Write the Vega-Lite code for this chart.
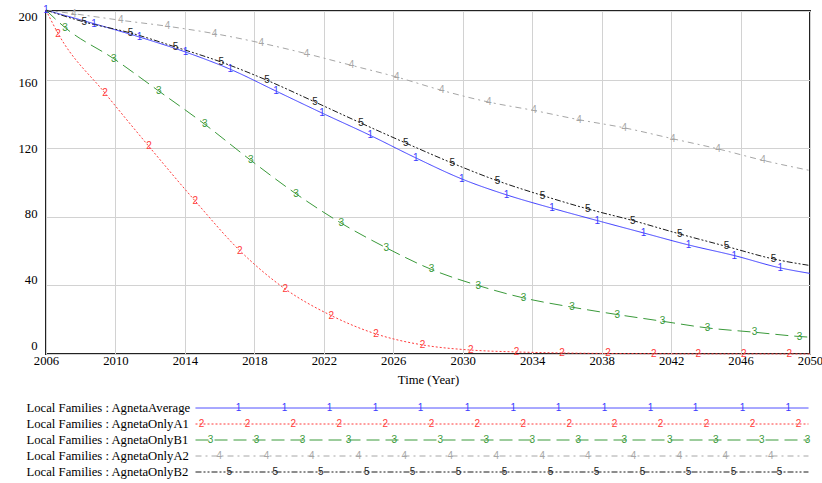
{
  "$schema": "https://vega.github.io/schema/vega-lite/v6.json",
  "padding": {"left": 16, "top": 4, "right": 0, "bottom": 0},
  "background": "white",
  "spacing": 12,
  "config": {"font": "Liberation Serif", "view": {"stroke": null}},
  "datasets": {
    "curves": [
      {"series": "AgnetaAverage", "year": 2006, "value": 200.5},
      {"series": "AgnetaAverage", "year": 2008.77, "value": 192.6},
      {"series": "AgnetaAverage", "year": 2011.39, "value": 184.8},
      {"series": "AgnetaAverage", "year": 2014.03, "value": 176.1},
      {"series": "AgnetaAverage", "year": 2016.62, "value": 166.0},
      {"series": "AgnetaAverage", "year": 2019.25, "value": 153.3},
      {"series": "AgnetaAverage", "year": 2021.9, "value": 140.5},
      {"series": "AgnetaAverage", "year": 2024.67, "value": 127.5},
      {"series": "AgnetaAverage", "year": 2027.29, "value": 114.4},
      {"series": "AgnetaAverage", "year": 2029.94, "value": 102.1},
      {"series": "AgnetaAverage", "year": 2032.52, "value": 92.8},
      {"series": "AgnetaAverage", "year": 2035.15, "value": 85.0},
      {"series": "AgnetaAverage", "year": 2037.75, "value": 77.8},
      {"series": "AgnetaAverage", "year": 2040.41, "value": 70.6},
      {"series": "AgnetaAverage", "year": 2043.0, "value": 63.6},
      {"series": "AgnetaAverage", "year": 2045.64, "value": 57.4},
      {"series": "AgnetaAverage", "year": 2048.29, "value": 50.2},
      {"series": "AgnetaAverage", "year": 2050, "value": 47.0},
      {"series": "AgnetaOnlyA1", "year": 2006, "value": 200.5},
      {"series": "AgnetaOnlyA1", "year": 2006.7, "value": 186.8},
      {"series": "AgnetaOnlyA1", "year": 2009.4, "value": 152.1},
      {"series": "AgnetaOnlyA1", "year": 2011.93, "value": 121.0},
      {"series": "AgnetaOnlyA1", "year": 2014.6, "value": 89.1},
      {"series": "AgnetaOnlyA1", "year": 2017.16, "value": 60.3},
      {"series": "AgnetaOnlyA1", "year": 2019.78, "value": 37.9},
      {"series": "AgnetaOnlyA1", "year": 2022.43, "value": 22.4},
      {"series": "AgnetaOnlyA1", "year": 2025.0, "value": 11.7},
      {"series": "AgnetaOnlyA1", "year": 2027.68, "value": 5.3},
      {"series": "AgnetaOnlyA1", "year": 2030.47, "value": 2.3},
      {"series": "AgnetaOnlyA1", "year": 2033.1, "value": 1.2},
      {"series": "AgnetaOnlyA1", "year": 2035.72, "value": 0.6},
      {"series": "AgnetaOnlyA1", "year": 2038.37, "value": 0.3},
      {"series": "AgnetaOnlyA1", "year": 2041.0, "value": 0.2},
      {"series": "AgnetaOnlyA1", "year": 2043.57, "value": 0.1},
      {"series": "AgnetaOnlyA1", "year": 2046.18, "value": 0.1},
      {"series": "AgnetaOnlyA1", "year": 2048.8, "value": 0.05},
      {"series": "AgnetaOnlyA1", "year": 2050, "value": 0.05},
      {"series": "AgnetaOnlyB1", "year": 2006, "value": 200.5},
      {"series": "AgnetaOnlyB1", "year": 2007.1, "value": 190.3},
      {"series": "AgnetaOnlyB1", "year": 2009.9, "value": 172.2},
      {"series": "AgnetaOnlyB1", "year": 2012.5, "value": 153.3},
      {"series": "AgnetaOnlyB1", "year": 2015.15, "value": 133.9},
      {"series": "AgnetaOnlyB1", "year": 2017.8, "value": 112.9},
      {"series": "AgnetaOnlyB1", "year": 2020.4, "value": 93.4},
      {"series": "AgnetaOnlyB1", "year": 2023.0, "value": 76.3},
      {"series": "AgnetaOnlyB1", "year": 2025.6, "value": 61.9},
      {"series": "AgnetaOnlyB1", "year": 2028.2, "value": 49.3},
      {"series": "AgnetaOnlyB1", "year": 2030.9, "value": 39.9},
      {"series": "AgnetaOnlyB1", "year": 2033.5, "value": 32.7},
      {"series": "AgnetaOnlyB1", "year": 2036.3, "value": 27.3},
      {"series": "AgnetaOnlyB1", "year": 2038.9, "value": 23.0},
      {"series": "AgnetaOnlyB1", "year": 2041.5, "value": 19.1},
      {"series": "AgnetaOnlyB1", "year": 2044.1, "value": 15.2},
      {"series": "AgnetaOnlyB1", "year": 2046.8, "value": 12.7},
      {"series": "AgnetaOnlyB1", "year": 2049.4, "value": 10.2},
      {"series": "AgnetaOnlyB1", "year": 2050, "value": 9.8},
      {"series": "AgnetaOnlyA2", "year": 2006, "value": 200.5},
      {"series": "AgnetaOnlyA2", "year": 2007.6, "value": 198.4},
      {"series": "AgnetaOnlyA2", "year": 2010.3, "value": 194.6},
      {"series": "AgnetaOnlyA2", "year": 2013.0, "value": 191.1},
      {"series": "AgnetaOnlyA2", "year": 2015.7, "value": 186.8},
      {"series": "AgnetaOnlyA2", "year": 2018.4, "value": 181.3},
      {"series": "AgnetaOnlyA2", "year": 2021.0, "value": 175.1},
      {"series": "AgnetaOnlyA2", "year": 2023.6, "value": 168.3},
      {"series": "AgnetaOnlyA2", "year": 2026.2, "value": 161.5},
      {"series": "AgnetaOnlyA2", "year": 2028.8, "value": 153.7},
      {"series": "AgnetaOnlyA2", "year": 2031.5, "value": 146.9},
      {"series": "AgnetaOnlyA2", "year": 2034.1, "value": 142.0},
      {"series": "AgnetaOnlyA2", "year": 2036.7, "value": 136.6},
      {"series": "AgnetaOnlyA2", "year": 2039.3, "value": 131.9},
      {"series": "AgnetaOnlyA2", "year": 2042.1, "value": 125.5},
      {"series": "AgnetaOnlyA2", "year": 2044.7, "value": 119.6},
      {"series": "AgnetaOnlyA2", "year": 2047.3, "value": 112.9},
      {"series": "AgnetaOnlyA2", "year": 2050, "value": 107.0},
      {"series": "AgnetaOnlyB2", "year": 2006, "value": 200.5},
      {"series": "AgnetaOnlyB2", "year": 2008.2, "value": 193.6},
      {"series": "AgnetaOnlyB2", "year": 2010.87, "value": 187.2},
      {"series": "AgnetaOnlyB2", "year": 2013.46, "value": 179.0},
      {"series": "AgnetaOnlyB2", "year": 2016.1, "value": 170.2},
      {"series": "AgnetaOnlyB2", "year": 2018.73, "value": 159.6},
      {"series": "AgnetaOnlyB2", "year": 2021.5, "value": 146.9},
      {"series": "AgnetaOnlyB2", "year": 2024.15, "value": 134.6},
      {"series": "AgnetaOnlyB2", "year": 2026.72, "value": 123.0},
      {"series": "AgnetaOnlyB2", "year": 2029.4, "value": 111.3},
      {"series": "AgnetaOnlyB2", "year": 2032.0, "value": 101.0},
      {"series": "AgnetaOnlyB2", "year": 2034.6, "value": 92.4},
      {"series": "AgnetaOnlyB2", "year": 2037.2, "value": 84.6},
      {"series": "AgnetaOnlyB2", "year": 2039.8, "value": 77.8},
      {"series": "AgnetaOnlyB2", "year": 2042.5, "value": 70.0},
      {"series": "AgnetaOnlyB2", "year": 2045.2, "value": 62.7},
      {"series": "AgnetaOnlyB2", "year": 2047.9, "value": 55.4},
      {"series": "AgnetaOnlyB2", "year": 2050, "value": 51.6}
    ],
    "legendRows": [
      {"series": "AgnetaAverage", "label": "Local Families : AgnetaAverage"},
      {"series": "AgnetaOnlyA1", "label": "Local Families : AgnetaOnlyA1"},
      {"series": "AgnetaOnlyB1", "label": "Local Families : AgnetaOnlyB1"},
      {"series": "AgnetaOnlyA2", "label": "Local Families : AgnetaOnlyA2"},
      {"series": "AgnetaOnlyB2", "label": "Local Families : AgnetaOnlyB2"}
    ],
    "legendMarks": [
      {"series": "AgnetaAverage", "pos": 25.20}, {"series": "AgnetaAverage", "pos": 31.22}, {"series": "AgnetaAverage", "pos": 37.11}, {"series": "AgnetaAverage", "pos": 43.13}, {"series": "AgnetaAverage", "pos": 49.02}, {"series": "AgnetaAverage", "pos": 55.17}, {"series": "AgnetaAverage", "pos": 61.15}, {"series": "AgnetaAverage", "pos": 67.08}, {"series": "AgnetaAverage", "pos": 73.10}, {"series": "AgnetaAverage", "pos": 79.12}, {"series": "AgnetaAverage", "pos": 85.01}, {"series": "AgnetaAverage", "pos": 91.16}, {"series": "AgnetaAverage", "pos": 97.15},
      {"series": "AgnetaOnlyA1", "pos": 20.35}, {"series": "AgnetaOnlyA1", "pos": 26.37}, {"series": "AgnetaOnlyA1", "pos": 32.36}, {"series": "AgnetaOnlyA1", "pos": 38.38}, {"series": "AgnetaOnlyA1", "pos": 44.40}, {"series": "AgnetaOnlyA1", "pos": 50.46}, {"series": "AgnetaOnlyA1", "pos": 56.44}, {"series": "AgnetaOnlyA1", "pos": 62.46}, {"series": "AgnetaOnlyA1", "pos": 68.48}, {"series": "AgnetaOnlyA1", "pos": 74.41}, {"series": "AgnetaOnlyA1", "pos": 80.43}, {"series": "AgnetaOnlyA1", "pos": 86.45}, {"series": "AgnetaOnlyA1", "pos": 92.47}, {"series": "AgnetaOnlyA1", "pos": 98.50},
      {"series": "AgnetaOnlyB1", "pos": 21.53}, {"series": "AgnetaOnlyB1", "pos": 27.55}, {"series": "AgnetaOnlyB1", "pos": 33.57}, {"series": "AgnetaOnlyB1", "pos": 39.59}, {"series": "AgnetaOnlyB1", "pos": 45.58}, {"series": "AgnetaOnlyB1", "pos": 51.60}, {"series": "AgnetaOnlyB1", "pos": 57.62}, {"series": "AgnetaOnlyB1", "pos": 63.64}, {"series": "AgnetaOnlyB1", "pos": 69.66}, {"series": "AgnetaOnlyB1", "pos": 75.68}, {"series": "AgnetaOnlyB1", "pos": 81.65}, {"series": "AgnetaOnlyB1", "pos": 87.67}, {"series": "AgnetaOnlyB1", "pos": 93.69}, {"series": "AgnetaOnlyB1", "pos": 99.67},
      {"series": "AgnetaOnlyA2", "pos": 22.67}, {"series": "AgnetaOnlyA2", "pos": 28.86}, {"series": "AgnetaOnlyA2", "pos": 34.79}, {"series": "AgnetaOnlyA2", "pos": 40.90}, {"series": "AgnetaOnlyA2", "pos": 46.88}, {"series": "AgnetaOnlyA2", "pos": 52.91}, {"series": "AgnetaOnlyA2", "pos": 58.93}, {"series": "AgnetaOnlyA2", "pos": 64.95}, {"series": "AgnetaOnlyA2", "pos": 70.92}, {"series": "AgnetaOnlyA2", "pos": 76.90}, {"series": "AgnetaOnlyA2", "pos": 82.92}, {"series": "AgnetaOnlyA2", "pos": 88.90}, {"series": "AgnetaOnlyA2", "pos": 94.87},
      {"series": "AgnetaOnlyB2", "pos": 23.98}, {"series": "AgnetaOnlyB2", "pos": 30.00}, {"series": "AgnetaOnlyB2", "pos": 35.97}, {"series": "AgnetaOnlyB2", "pos": 41.99}, {"series": "AgnetaOnlyB2", "pos": 47.97}, {"series": "AgnetaOnlyB2", "pos": 53.99}, {"series": "AgnetaOnlyB2", "pos": 60.01}, {"series": "AgnetaOnlyB2", "pos": 66.03}, {"series": "AgnetaOnlyB2", "pos": 72.06}, {"series": "AgnetaOnlyB2", "pos": 78.08}, {"series": "AgnetaOnlyB2", "pos": 84.10}, {"series": "AgnetaOnlyB2", "pos": 89.99}, {"series": "AgnetaOnlyB2", "pos": 96.01}
    ]
  },
  "vconcat": [
    {
      "width": 764,
      "height": 343,
      "view": {"stroke": "#222222", "strokeWidth": 2},
      "layer": [
        {
          "data": {"name": "curves"},
          "mark": {"type": "line", "interpolate": "monotone", "strokeWidth": 1},
          "encoding": {
            "x": {"field": "year", "type": "quantitative",
              "scale": {"domain": [2006, 2050], "nice": false, "zero": false},
              "axis": {"values": [2006, 2010, 2014, 2018, 2022, 2026, 2030, 2034, 2038, 2042, 2046, 2050],
                "format": "d", "title": "Time (Year)", "titleFont": "Liberation Serif", "titleFontSize": 12.7,
                "titleFontWeight": "normal", "titleColor": "#000000", "titlePadding": 7,
                "labelFont": "Liberation Serif", "labelFontSize": 12.7, "labelColor": "#000000",
                "labelPadding": 0, "labelFlush": false, "tickSize": 0, "domain": false,
                "grid": true, "gridColor": "#d2d2d2", "gridWidth": 1}},
            "y": {"field": "value", "type": "quantitative",
              "scale": {"domain": [0, 200], "nice": false, "zero": true},
              "axis": {"values": [0, 20, 40, 60, 80, 100, 120, 140, 160, 180, 200],
                "labelExpr": "datum.value % 40 == 0 ? datum.label : ''",
                "labelOffset": {"expr": "(datum.value - 100) * 0.074 - 1.5"},
                "title": null, "labelFont": "Liberation Serif", "labelFontSize": 12.7, "labelColor": "#000000",
                "labelPadding": 9, "tickSize": 0, "domain": false,
                "grid": true, "gridColor": "#d2d2d2", "gridWidth": 1}},
            "color": {"field": "series", "type": "nominal",
              "scale": {"domain": ["AgnetaAverage", "AgnetaOnlyA1", "AgnetaOnlyB1", "AgnetaOnlyA2", "AgnetaOnlyB2"],
                "range": ["#3a3aff", "#ff3b3b", "#3a9a3a", "#a6a6a6", "#1a1a1a"]}, "legend": null},
            "strokeDash": {"field": "series", "type": "nominal",
              "scale": {"domain": ["AgnetaAverage", "AgnetaOnlyA1", "AgnetaOnlyB1", "AgnetaOnlyA2", "AgnetaOnlyB2"],
                "range": [[1, 0], [2, 2], [13, 6], [6, 4, 2, 4], [6, 2, 2, 2, 2, 2]]}, "legend": null},
            "order": {"field": "year"}
          }
        },
        {
          "data": {"name": "curves"},
          "transform": [
            {"filter": "(datum.year > 2006 && datum.year < 2050) || (datum.series == 'AgnetaAverage' && datum.year == 2006)"},
            {"calculate": "'' + (indexof(['AgnetaAverage','AgnetaOnlyA1','AgnetaOnlyB1','AgnetaOnlyA2','AgnetaOnlyB2'], datum.series) + 1)", "as": "num"}
          ],
          "mark": {"type": "text", "font": "Liberation Sans", "fontSize": 10, "align": "center", "baseline": "middle"},
          "encoding": {
            "x": {"field": "year", "type": "quantitative"},
            "y": {"field": "value", "type": "quantitative"},
            "text": {"field": "num"},
            "color": {"field": "series", "type": "nominal", "legend": null}
          }
        }
      ]
    },
    {
      "width": 764,
      "height": 80,
      "layer": [
        {
          "data": {"name": "legendRows"},
          "mark": {"type": "text", "font": "Liberation Serif", "fontSize": 12.7, "align": "left", "baseline": "middle", "color": "#000000"},
          "encoding": {
            "x": {"datum": -2.55, "type": "quantitative", "scale": {"domain": [0, 100], "nice": false, "zero": false}, "axis": null},
            "y": {"field": "series", "type": "nominal",
              "scale": {"type": "point", "padding": 0.5, "domain": ["AgnetaAverage", "AgnetaOnlyA1", "AgnetaOnlyB1", "AgnetaOnlyA2", "AgnetaOnlyB2"]},
              "axis": null},
            "text": {"field": "label"}
          }
        },
        {
          "data": {"name": "legendRows"},
          "mark": {"type": "rule", "strokeWidth": 1},
          "encoding": {
            "x": {"datum": 19.57, "type": "quantitative"},
            "x2": {"datum": 99.8},
            "y": {"field": "series", "type": "nominal"},
            "color": {"field": "series", "type": "nominal", "legend": null},
            "strokeDash": {"field": "series", "type": "nominal", "legend": null}
          }
        },
        {
          "data": {"name": "legendMarks"},
          "transform": [
            {"calculate": "'' + (indexof(['AgnetaAverage','AgnetaOnlyA1','AgnetaOnlyB1','AgnetaOnlyA2','AgnetaOnlyB2'], datum.series) + 1)", "as": "num"}
          ],
          "mark": {"type": "text", "font": "Liberation Sans", "fontSize": 10, "align": "center", "baseline": "middle"},
          "encoding": {
            "x": {"field": "pos", "type": "quantitative"},
            "y": {"field": "series", "type": "nominal"},
            "text": {"field": "num"},
            "color": {"field": "series", "type": "nominal", "legend": null}
          }
        }
      ]
    }
  ]
}
